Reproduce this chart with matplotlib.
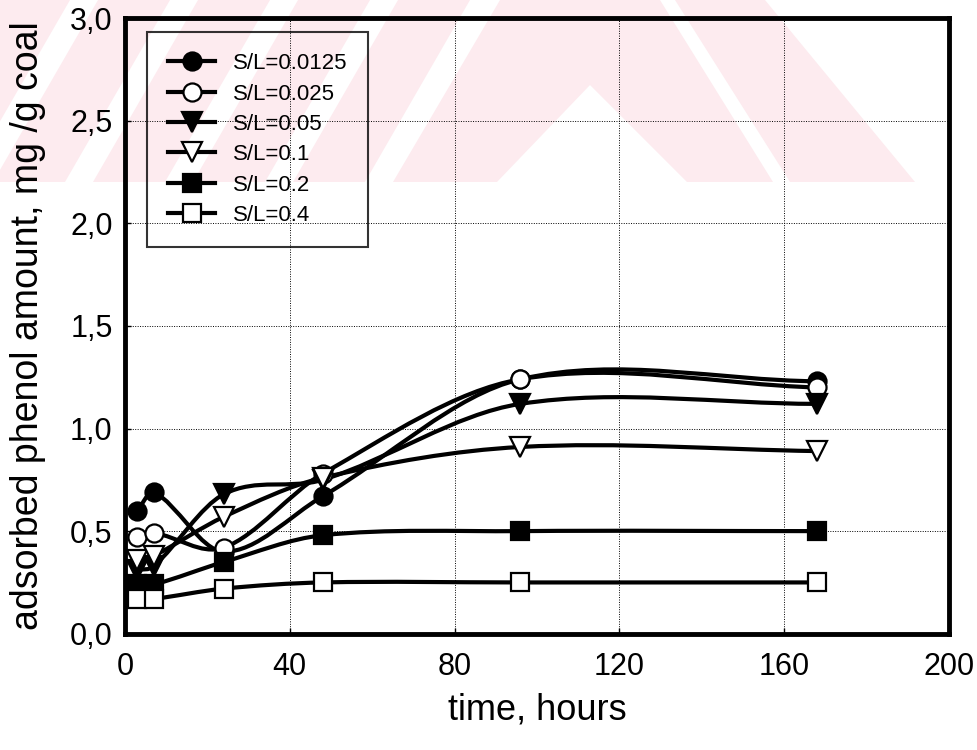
"""
Phenol adsorption on coal vs time for several solid/liquid ratios.
Smooth curves through the measured points, scanned-thesis look.
"""
import matplotlib
matplotlib.use("Agg")
import matplotlib.pyplot as plt
import numpy as np
from matplotlib.lines import Line2D
from matplotlib.patches import PathPatch, Polygon
from matplotlib.path import Path
from matplotlib.ticker import FuncFormatter

plt.rcParams["font.family"] = ["Liberation Sans", "DejaVu Sans"]

# ---- data ----
TIME = [3, 7, 24, 48, 96, 168]                       # hours
SL_0125 = [0.60, 0.69, 0.40, 0.67, 1.24, 1.23]
SL_025 = [0.47, 0.49, 0.42, 0.78, 1.24, 1.20]
SL_05 = [0.31, 0.33, 0.68, 0.75, 1.12, 1.12]
SL_1 = [0.36, 0.38, 0.57, 0.76, 0.91, 0.89]
SL_2 = [0.24, 0.24, 0.35, 0.48, 0.50, 0.50]
SL_4 = [0.17, 0.17, 0.22, 0.25, 0.25, 0.25]

LABELS = ["S/L=0.0125", "S/L=0.025", "S/L=0.05", "S/L=0.1", "S/L=0.2", "S/L=0.4"]
SERIES = [SL_0125, SL_025, SL_05, SL_1, SL_2, SL_4]
MARKERS = ["o", "o", "v", "v", "s", "s"]
FACES = ["black", "white", "black", "white", "black", "white"]
X_TICKS = [0, 40, 80, 120, 160, 200]
Y_TICKS = [0.0, 0.5, 1.0, 1.5, 2.0, 2.5, 3.0]
MS = {"o": 13, "v": 14, "s": 12.5}


def smooth_path(x, y):
    """Cubic Hermite through the points, as Bezier segments (like the original spline lines)."""
    x = np.asarray(x, float); y = np.asarray(y, float)
    n = len(x)
    m = np.empty(n)
    m[0] = (y[1] - y[0]) / (x[1] - x[0])
    m[-1] = (y[-1] - y[-2]) / (x[-1] - x[-2])
    m[1:-1] = (y[2:] - y[:-2]) / (x[2:] - x[:-2])
    verts = [(x[0], y[0])]
    codes = [Path.MOVETO]
    for i in range(n - 1):
        h = (x[i + 1] - x[i]) / 3.0
        verts += [(x[i] + h, y[i] + h * m[i]), (x[i + 1] - h, y[i + 1] - h * m[i + 1]), (x[i + 1], y[i + 1])]
        codes += [Path.CURVE4] * 3
    return Path(verts, codes)


def watermark(fig):
    """Faint pink stripes across the top of the scan (pixel coords, origin top-left)."""
    W, H = 977.0, 750.0
    pink = "#fdebef"

    def poly(pts):
        fig.patches.append(Polygon([(px / W, 1 - py / H) for px, py in pts], closed=True,
                                   transform=fig.transFigure, facecolor=pink, edgecolor="none",
                                   zorder=-10))
    # left: "/" bands
    for x0 in (-107, -7, 93, 193, 293):
        poly([(x0, 182), (x0 + 72, 182), (x0 + 72 + 105, 0), (x0 + 105, 0)])
    # chevron with a white notch under its apex
    poly([(393, 182), (497, 182), (590, 85), (687, 182), (773, 182), (660, 0), (500, 0)])
    # right "\" band
    poly([(675, 0), (765, 0), (915, 182), (790, 182)])


fig = plt.figure(figsize=(9.77, 7.5), dpi=100)
watermark(fig)
ax = fig.add_axes([0.128, 0.155, 0.843, 0.821])
ax.patch.set_alpha(0)

for ys, mk, fc in zip(SERIES, MARKERS, FACES):
    ax.add_patch(PathPatch(smooth_path(TIME, ys), fill=False, edgecolor="black", lw=3.0, zorder=3))
    ax.plot(TIME, ys, linestyle="none", marker=mk, ms=MS[mk],
            mfc=fc, mec="black", mew=1.6, zorder=4)

ax.set_xlim(0, 200)
ax.set_ylim(0, 3.0)
ax.set_xticks(X_TICKS)
ax.set_yticks(Y_TICKS)
ax.yaxis.set_major_formatter(FuncFormatter(lambda v, p: f"{v:.1f}".replace(".", ",")))
ax.tick_params(labelsize=22, direction="in", length=4, width=1)
ax.tick_params(axis="x", pad=13)
ax.tick_params(axis="y", pad=9)
ax.grid(True, color="black", lw=0.7, linestyle=(0, (1, 1.5)))
ax.set_axisbelow(True)
for sp in ax.spines.values():
    sp.set_linewidth(3.5)

ax.set_xlabel("time, hours", fontsize=26, labelpad=8)
ax.set_ylabel("adsorbed phenol amount, mg /g coal", fontsize=27, labelpad=17)

handles = [Line2D([], [], color="black", lw=3.0, marker=mk, ms=MS[mk], mfc=fc, mec="black", mew=1.6)
           for mk, fc in zip(MARKERS, FACES)]
leg = ax.legend(handles, LABELS, loc="upper left", bbox_to_anchor=(0.027, 0.977),
                borderaxespad=0, fontsize=16, handlelength=2.1, handletextpad=0.8,
                labelspacing=0.42, borderpad=0.95, fancybox=False, edgecolor="black")
leg.get_frame().set_linewidth(1.5)
leg.get_frame().set_facecolor("none")

fig.savefig("out.png", dpi=100)
